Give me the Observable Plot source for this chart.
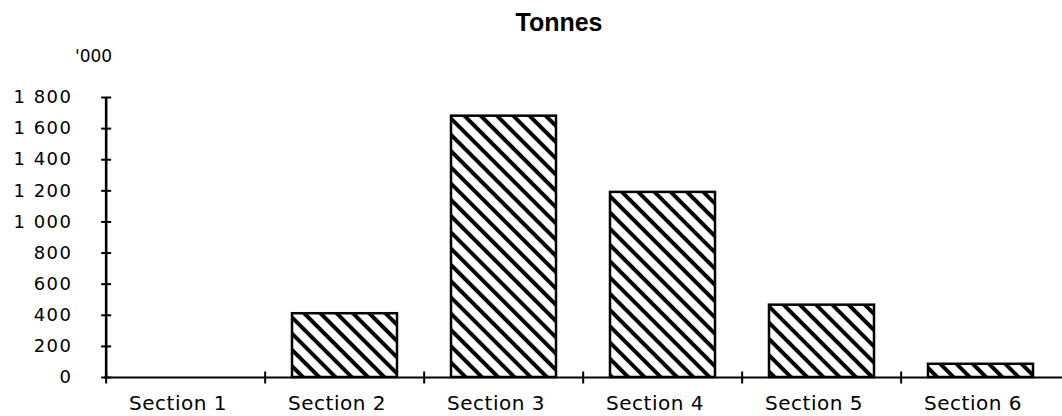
<!DOCTYPE html>
<html>
<head>
<meta charset="utf-8">
<script src="https://cdn.jsdelivr.net/npm/d3@7"></script>
<script src="https://cdn.jsdelivr.net/npm/@observablehq/plot@0.6"></script>
<style>
  html, body { margin: 0; padding: 0; background: #fff; }
  #wrap { width: 1062px; height: 416px; position: relative; overflow: hidden; }
  #header { position: relative; height: 66px; }
  #title { position: absolute; left: 459px; width: 200px; top: 10px; text-align: center;
           font: bold 25px/25px "Liberation Sans", Arial, sans-serif; color: #000; }
  #unit { position: absolute; left: 75px; top: 48px;
          font: 17px/17px "DejaVu Sans", sans-serif; color: #000; }
  svg { display: block; }
  g[aria-label="y-axis tick label"] text { letter-spacing: 1.5px; }
  g[aria-label="x-axis tick label"] text { letter-spacing: 0.5px; }
</style>
</head>
<body>
<div id="wrap">
  <div id="header">
    <div id="title">Tonnes</div>
    <div id="unit">'000</div>
  </div>
  <div id="chart"></div>
</div>
<script>
const categories = ["Section 1", "Section 2", "Section 3", "Section 4", "Section 5", "Section 6"];
const tonnes = [0, 410, 1680, 1190, 465, 85];
const yTicks = [0, 200, 400, 600, 800, 1000, 1200, 1400, 1600, 1800];

const data = categories.map((c, i) => ({section: c, value: tonnes[i]}));

const W = 1062, H = 350, mL = 104, mR = 0, mT = 31, mB = 39;
const step = (W - mL - mR) / categories.length;

const hTick = {draw(ctx) { ctx.moveTo(-5, 0); ctx.lineTo(5, 0); }};
const vTick = {draw(ctx) { ctx.moveTo(0, -6); ctx.lineTo(0, 6); }};

const fmt = d => d3.format(",")(d).replace(/,/g, " ");

const plot = Plot.plot({
  width: W,
  height: H,
  marginLeft: mL,
  marginRight: mR,
  marginTop: mT,
  marginBottom: mB,
  style: {fontFamily: "'DejaVu Sans', sans-serif", color: "#000", background: "#fff"},
  x: {domain: categories, paddingInner: 0.34, paddingOuter: 0.17},
  y: {domain: [0, 1800]},
  marks: [
    Plot.barY(data.filter(d => d.value > 0), {
      x: "section", y: "value",
      fill: "url(#hatch)", stroke: "#000", strokeWidth: 2.5
    }),
    Plot.ruleY([0], {stroke: "#000", strokeWidth: 2.2}),
    Plot.ruleX([categories[0]], {x: d => d, y1: 0, y2: 1800, dx: -step / 2, stroke: "#000", strokeWidth: 2.6}),
    Plot.dot(yTicks, {x: () => categories[0], y: d => d, dx: -step / 2, symbol: hTick, stroke: "#000", fill: "none", strokeWidth: 2}),
    Plot.dot(categories, {x: d => d, y: () => 0, dx: -step / 2, symbol: vTick, stroke: "#000", fill: "none", strokeWidth: 2}),
    Plot.axisY({ticks: yTicks, tickSize: 0, tickPadding: 32, tickFormat: fmt, fontSize: 18, label: null}),
    Plot.axisX({tickSize: 0, tickPadding: 18, dx: -8, fontSize: 20, label: null})
  ]
});

const svg = d3.select(plot);
const defs = svg.insert("defs", ":first-child");
const pat = defs.append("pattern")
  .attr("id", "hatch")
  .attr("patternUnits", "userSpaceOnUse")
  .attr("width", 11.5)
  .attr("height", 11.5)
  .attr("patternTransform", "rotate(45)");
pat.append("rect").attr("width", 11.5).attr("height", 11.5).attr("fill", "#fff");
pat.append("rect").attr("y", 3.75).attr("width", 11.5).attr("height", 4).attr("fill", "#000");

document.getElementById("chart").appendChild(plot);
</script>
</body>
</html>
